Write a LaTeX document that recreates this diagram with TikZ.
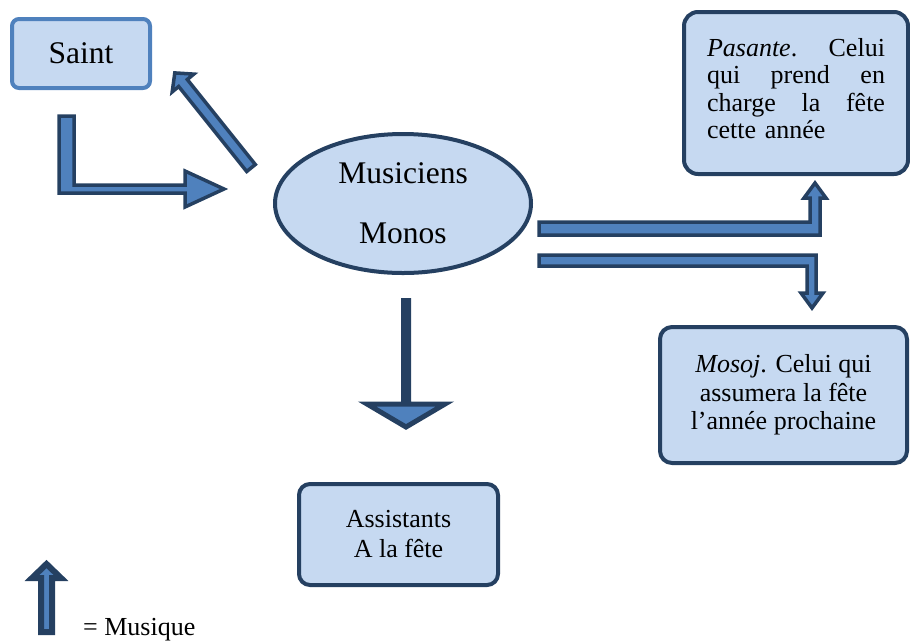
\documentclass[tikz,border=0pt]{standalone}
\usepackage{fontspec}
\setmainfont{Liberation Serif}
\usetikzlibrary{shapes.geometric}
\newcommand{\justline}[1]{\makebox[178pt][l]{#1}}

\begin{document}
\begin{tikzpicture}[x=1pt, y=-1pt,
    roundbox/.style={rectangle, rounded corners=#1, draw=navy, fill=lightfill,
      line width=4pt, inner sep=0pt, align=center,
      font=\fontsize{26}{28.5}\selectfont},
    blockarrow/.style={draw=navy, fill=arrowblue, line width=3.5pt}]
  % Define colors
  \definecolor{lightfill}{RGB}{198,217,241}
  \definecolor{arrowblue}{RGB}{79,129,189}
  \definecolor{navy}{RGB}{37,64,97}

  \useasboundingbox (0,0) rectangle (910,641);

  % Draw the boxes
  \node[roundbox=7pt, draw=arrowblue, minimum width=138pt, minimum height=69pt,
    font=\fontsize{31.5}{38}\selectfont] (saint) at (81,53.5) {Saint};
  \node[ellipse, draw=navy, fill=lightfill, line width=4pt, minimum width=256pt,
    minimum height=139pt, inner sep=0pt, align=center,
    font=\fontsize{31.5}{60}\selectfont] (musiciens) at (403,203.5) {Musiciens\\Monos};
  \node[roundbox=14pt, minimum width=224pt, minimum height=162pt, text width=178pt,
    align=left, text depth=92pt, font=\fontsize{26}{27.5}\selectfont] (pasante) at (796,93)
    {\justline{\textit{Pasante}.\hfill Celui}\\\justline{qui\hfill prend\hfill en}\\
     \justline{charge\hfill la\hfill fête}\\cette année};
  \node[roundbox=12pt, minimum width=247pt, minimum height=136pt] (mosoj) at (783.5,395)
    {\textit{Mosoj}. Celui qui\\assumera la fête\\l’année prochaine};
  \node[roundbox=11pt, minimum width=199pt, minimum height=101pt,
    font=\fontsize{26}{30}\selectfont] (assistants) at (398.5,534.5) {Assistants\\A la fête};

  % Arrows around the saint
  \draw[blockarrow] (59,116) -- (74,116) -- (74,185) -- (185,185) -- (185,171) -- (224,189)
    -- (185,207) -- (185,193) -- (59,193) -- cycle;
  \draw[blockarrow] (255.3,164.5) -- (187.3,79.5) -- (193.8,74.1) -- (174.8,72.9)
    -- (172.2,91.9) -- (178.7,86.5) -- (246.7,171.5) -- cycle;

  % Arrows to the right
  \draw[blockarrow] (539,222) -- (810,222) -- (810,198) -- (804,198) -- (815,183) -- (826,198)
    -- (820,198) -- (820,235) -- (539,235) -- cycle;
  \draw[blockarrow] (539,255) -- (816,255) -- (816,293) -- (823,293) -- (812,308) -- (801,293)
    -- (807,293) -- (807,266) -- (539,266) -- cycle;

  % Arrow down
  \draw[blockarrow, line width=5pt] (403.5,300.5) -- (408.5,300.5) -- (408.5,404) -- (445,404)
    -- (406,427) -- (367,404) -- (403.5,404) -- cycle;

  % Legend
  \draw[blockarrow, line width=6pt] (41,632) -- (41,578) -- (32,578) -- (46.5,564) -- (61,578)
    -- (52,578) -- (52,632) -- cycle;
  \node[anchor=base west, inner sep=0pt, font=\fontsize{26}{30}\selectfont] (legende)
    at (83,635) {= Musique};
\end{tikzpicture}
\end{document}
